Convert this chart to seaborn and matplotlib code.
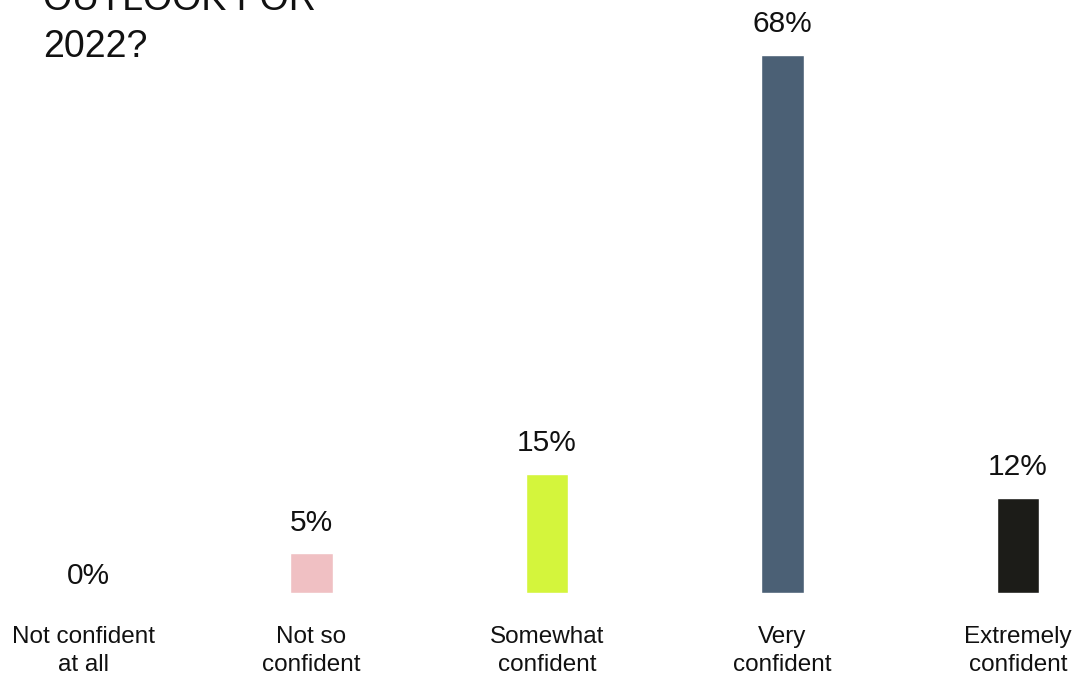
import matplotlib
matplotlib.use("Agg")
import matplotlib.pyplot as plt
import matplotlib.transforms as mtransforms
import seaborn as sns
import pandas as pd

# chart data
categories = ["Not confident\nat all", "Not so\nconfident", "Somewhat\nconfident",
              "Very\nconfident", "Extremely\nconfident"]
values = [0, 5, 15, 68, 12]
colors = ["#F0C0C3", "#F0C0C3", "#D4F53C", "#4B6075", "#1C1C18"]

df = pd.DataFrame({"category": categories, "value": values})

sns.set_style("white")
plt.rcParams["font.family"] = ["Liberation Sans", "DejaVu Sans"]

fig = plt.figure(figsize=(10.83, 6.76), dpi=100)
ax = fig.add_axes([0, (676 - 593) / 676, 1, 593 / 676])

sns.barplot(data=df, x="category", y="value", hue="category", palette=colors,
            legend=False, width=0.18, saturation=1, ax=ax)

step = 235.5
first = 1018 - 4 * step
ax.set_xlim(-first / step, (1083 - first) / step)
ax.set_ylim(0, 593 / (538 / 68))

# value labels
for i, v in enumerate(values):
    pad = 6.5 if v == 0 else 16.5
    dx = 9 if i == 0 else 0
    ax.annotate(f"{v}%", (i, v), xytext=(dx, pad), textcoords="offset points",
                ha="center", va="baseline", fontsize=21.5, color="#111111")

ax.set_xlabel("")
ax.set_ylabel("")
ax.set_yticks([])
ax.tick_params(axis="x", length=0, pad=24, labelsize=17.5)
for k, lbl in enumerate(ax.get_xticklabels()):
    lbl.set_linespacing(1.33)
    lbl.set_color("#111111")
    if k == 0:
        lbl.set_transform(lbl.get_transform() +
                          mtransforms.ScaledTranslation(8 / 100, 0, fig.dpi_scale_trans))
sns.despine(ax=ax, left=True, bottom=True, top=True, right=True)

# title (cut at top of image)
fig.text(43 / 1083, 1 - 10 / 676, "OUTLOOK FOR", ha="left", va="baseline",
         fontsize=27, color="#111111")
fig.text(43 / 1083, 1 - 57 / 676, "2022?", ha="left", va="baseline",
         fontsize=27, color="#111111")

fig.savefig("out.png", dpi=100)
